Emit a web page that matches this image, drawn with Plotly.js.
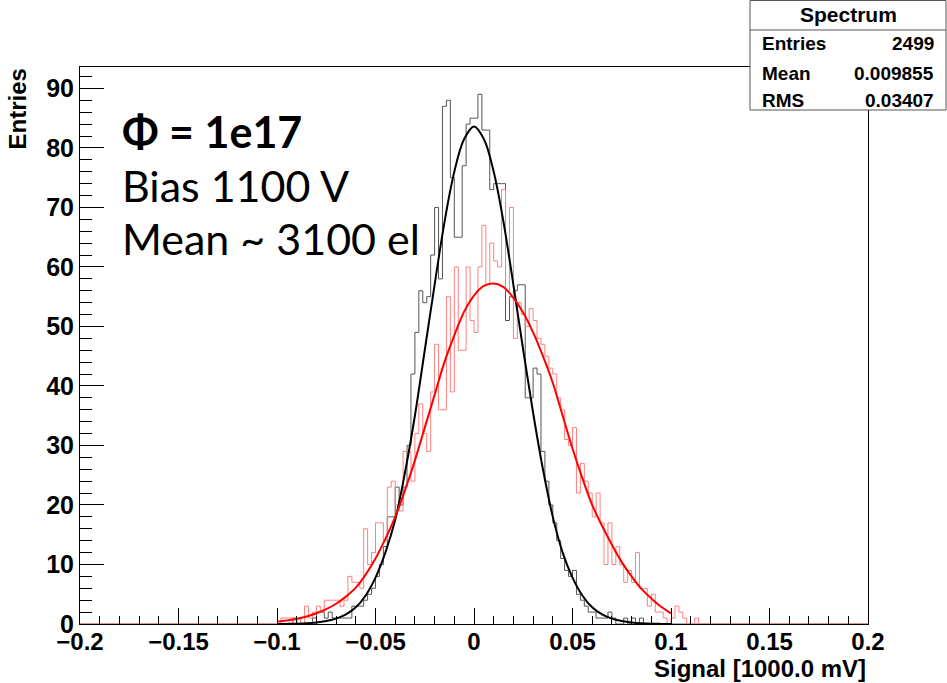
<!DOCTYPE html>
<html>
<head>
<meta charset="utf-8">
<script src="https://cdn.plot.ly/plotly-3.0.1.min.js"></script>
<style>
html,body{margin:0;padding:0;background:#fff;}
#chart{width:947px;height:683px;}
</style>
</head>
<body>
<div id="chart"></div>
<script>
// Histogram: 200 bins of width 0.002 over [-0.2, 0.2]
const histLow = -0.2;
const histHigh = 0.2;
const nBins = 200;

// Black histogram counts, bins 50..145 (others 0)
const blackFirstBin = 50;
const blackCounts = [
  0,0,0,0,1,0,0,0,0,1,
  2,2,1,2,1,1,1,1,1,3,
  3,3,4,5,6,8,10,13,18,18,
  23,20,23,30,42,49,56,54,55,62,
  70,58,87,88,75,65,65,77,84,85,
  85,89,83,83,73,74,74,74,51,55,
  56,57,57,38,38,43,42,29,24,20,
  17,14,11,9,8,9,5,4,3,2,
  2,1,1,1,2,1,0,0,1,0,
  1,0,1,0,0,0
];

// Red histogram counts ("Spectrum"), bins 50..157 (others 0)
const redFirstBin = 50;
const redCounts = [
  0,1,1,1,0,1,0,3,1,2,
  3,2,4,4,4,4,3,4,8,7,
  7,6,16,10,12,17,17,14,23,24,
  20,19,29,29,24,32,37,32,29,39,
  47,36,36,55,39,60,46,46,60,51,
  49,60,67,57,64,61,60,73,56,70,
  48,54,52,50,53,51,48,47,45,43,
  42,38,36,31,30,33,22,27,24,22,
  18,22,17,10,17,10,13,10,7,9,
  7,12,6,6,3,5,2,2,1,0,
  1,3,2,1,0,0,1,0
];

// Gaussian fit curves
const fitX = [-0.1,-0.095,-0.09,-0.085,-0.08,-0.075,-0.07,-0.065,-0.06,-0.055,-0.05,-0.045,-0.04,-0.035,-0.03,-0.025,-0.02,-0.015,-0.01,-0.005,0,
              0.005,0.01,0.015,0.02,0.025,0.03,0.035,0.04,0.045,0.05,0.055,0.06,0.065,0.07,0.075,0.08,0.085,0.09,0.095,0.1];
const blackFit = [0,0.02,0.05,0.12,0.25,0.5,0.9,1.6,2.8,4.8,7.8,12,17.5,25.5,35,46,57,67.5,76,81.5,83.6,
                  81.5,76,67.5,57,46,35.5,26,18,12,7.8,4.8,2.8,1.6,0.9,0.5,0.25,0.12,0.05,0.02,0];
const redFit = [0.4,0.6,0.85,1.25,1.8,2.5,3.4,4.6,6.1,8.3,11,14.3,18,22.5,27.5,33,38.5,44,48.5,52.5,55.2,
                56.8,57.2,56.6,54.8,52.3,49,45,40.5,35,29.5,24.5,20,16.5,13.3,10.4,8,5.9,4.3,2.9,1.8];

// Stats box
const statTitle = "Spectrum";
const statNames = ["Entries","Mean","RMS"];
const statValues = ["2499","0.009855","0.03407"];

const xTitle = "Signal [1000.0 mV]";
const yTitle = "Entries";
const noteLines = ["<b>Φ = 1e17</b>","Bias 1100 V","Mean ~ 3100 el"];

function fullCounts(first, arr){
  const out = new Array(nBins).fill(0);
  arr.forEach((v,i)=>{ out[first+i] = v; });
  return out;
}
function stepXY(counts){
  const w = (histHigh-histLow)/nBins;
  const xs=[], ys=[];
  for(let i=0;i<nBins;i++){ xs.push(histLow+i*w); ys.push(counts[i]); }
  xs.push(histHigh); ys.push(counts[nBins-1]);
  return {xs, ys};
}
const blk = stepXY(fullCounts(blackFirstBin, blackCounts));
const red = stepXY(fullCounts(redFirstBin, redCounts));

// pixel geometry of plot frame
const W=947, H=683, L=80, R=868, T=67, B=624;
const px = x => (x-L)/(R-L);
const py = y => (B-y)/(B-T);

const FONT = "Liberation Sans, Arial, sans-serif";
const NOTEFONT = "Lato, Open Sans, sans-serif";

const traces = [
  {x: blk.xs, y: blk.ys, type:'scatter', mode:'lines', line:{shape:'hv', color:'#555555', width:1}, hoverinfo:'skip'},
  {x: red.xs, y: red.ys, type:'scatter', mode:'lines', line:{shape:'hv', color:'#ff8080', width:1}, hoverinfo:'skip'},
  {x: fitX, y: blackFit, type:'scatter', mode:'lines', line:{shape:'spline', color:'#000000', width:2}, hoverinfo:'skip'},
  {x: fitX, y: redFit, type:'scatter', mode:'lines', line:{shape:'spline', color:'#ff0000', width:2}, hoverinfo:'skip'}
];

const annotations = [];
// axis titles
annotations.push({xref:'paper', yref:'paper', x:px(868), y:py(668), xanchor:'right', yanchor:'middle',
  text:xTitle, showarrow:false, font:{family:FONT, size:24, weight:'bold', color:'#000'}});
annotations.push({xref:'paper', yref:'paper', x:px(17), y:py(67), xanchor:'center', yanchor:'top', textangle:-90,
  text:yTitle, showarrow:false, font:{family:FONT, size:24, weight:'bold', color:'#000'}});
// note text
const noteBase = [131, 185, 238];
noteLines.forEach((t,i)=>{
  annotations.push({xref:'paper', yref:'paper', x:px(120), y:py(noteBase[i]), xanchor:'left', yanchor:'middle',
    text:t, showarrow:false, font:{family:NOTEFONT, size:43, color:'#000'}});
});
// stats box
annotations.push({xref:'paper', yref:'paper', x:px(848), y:py(15), xanchor:'center', yanchor:'middle',
  text:'<b>'+statTitle+'</b>', showarrow:false, font:{family:FONT, size:21, color:'#000'}});
const rowY = [44, 73, 100];
statNames.forEach((n,i)=>{
  annotations.push({xref:'paper', yref:'paper', x:px(760), y:py(rowY[i]), xanchor:'left', yanchor:'middle',
    text:'<b>'+n+'</b>', showarrow:false, font:{family:FONT, size:19, color:'#000'}});
  annotations.push({xref:'paper', yref:'paper', x:px(936), y:py(rowY[i]), xanchor:'right', yanchor:'middle',
    text:'<b>'+statValues[i]+'</b>', showarrow:false, font:{family:FONT, size:19, color:'#000'}});
});

const shapes = [
  {type:'rect', xref:'paper', yref:'paper', x0:px(750), x1:px(946), y0:py(110), y1:py(0.5), fillcolor:'#ffffff', line:{color:'#555', width:1}, layer:'above'},
  {type:'line', xref:'paper', yref:'paper', x0:px(750), x1:px(946), y0:py(30), y1:py(30), line:{color:'#555', width:1}, layer:'above'}
];

const layout = {
  width:W, height:H,
  margin:{l:L, r:W-R, t:T, b:H-B, pad:0},
  paper_bgcolor:'#fff', plot_bgcolor:'#fff',
  showlegend:false,
  xaxis:{range:[histLow, histHigh], tick0:-0.2, dtick:0.05, ticks:'inside', ticklen:16, tickwidth:1, tickcolor:'#000',
    minor:{dtick:0.01, ticks:'inside', ticklen:8, tickwidth:1, tickcolor:'#000', showgrid:false},
    showline:true, mirror:true, linecolor:'#000', linewidth:1, showgrid:false, zeroline:false,
    ticklabelstandoff:-4,
    tickfont:{family:FONT, size:24, weight:'bold', color:'#000'}, fixedrange:true},
  yaxis:{range:[0, 93.6], tick0:0, dtick:10, ticks:'inside', ticklen:24, tickwidth:1, tickcolor:'#000',
    minor:{dtick:2, ticks:'inside', ticklen:12, tickwidth:1, tickcolor:'#000', showgrid:false},
    showline:true, mirror:true, linecolor:'#000', linewidth:1, showgrid:false, zeroline:false,
    tickfont:{family:FONT, size:25, weight:'bold', color:'#000'}, fixedrange:true},
  annotations, shapes
};

Plotly.newPlot('chart', traces, layout, {staticPlot:true, displayModeBar:false});
</script>
</body>
</html>
